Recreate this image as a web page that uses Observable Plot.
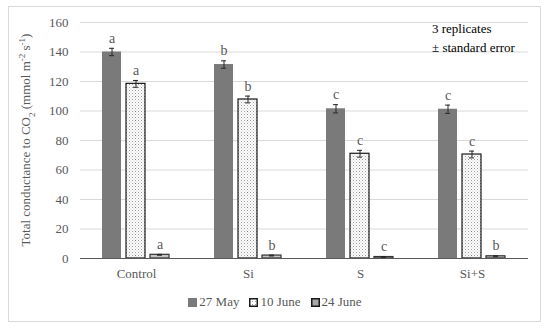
<!DOCTYPE html>
<html>
<head>
<meta charset="utf-8">
<script src="https://cdn.jsdelivr.net/npm/d3@7"></script>
<script src="https://cdn.jsdelivr.net/npm/@observablehq/plot@0.6"></script>
<style>
  body { margin: 0; background: #fff; }
  #wrap { position: relative; width: 550px; height: 331px; font-family: "Times New Roman", Times, "Liberation Serif", "Tinos", "Noto Serif", "FreeSerif", "DejaVu Serif", serif; }
  #frame { position: absolute; left: 8px; top: 6px; width: 533px; height: 316px; border: 1px solid #d9d9d9; box-sizing: border-box; }
  #chart { position: absolute; left: 0; top: 0; }
  #legend { position: absolute; left: 0; width: 550px; top: 294px; text-align: center; font-size: 13px; color: #595959; }
  #legend span.item { margin: 0 5px; white-space: nowrap; }
  #legend svg { vertical-align: -1px; margin-right: 2px; }
  #note { position: absolute; left: 432px; top: 19px; font-size: 13px; line-height: 19px; color: #000; }
  #chart svg, #chart svg text { font-family: "Times New Roman", Times, "Liberation Serif", "Tinos", "Noto Serif", "FreeSerif", "DejaVu Serif", serif !important; }
</style>
</head>
<body>
<div id="wrap">
  <div id="frame"></div>
  <div id="chart"></div>
  <div id="note">3 replicates<br>± standard error</div>
  <div id="legend"></div>
</div>
<script>
const categories = ["Control", "Si", "S", "Si+S"];
const series = ["27 May", "10 June", "24 June"];
const may27 = [140, 131.5, 101.5, 101.2];
const june10 = [118.4, 107.8, 71, 70.5];
const june24 = [2.5, 2, 1, 1.5];
const err27 = [2.5, 2.5, 2.8, 2.8];
const err10 = [2.3, 2.3, 2.3, 2.3];
const err24 = [0.3, 0.3, 0.3, 0.3];
const letters27 = ["a", "b", "c", "c"];
const letters10 = ["a", "b", "c", "c"];
const letters24 = ["a", "b", "c", "b"];
const yTicks = [0, 20, 40, 60, 80, 100, 120, 140, 160];

const values = [may27, june10, june24];
const errs = [err27, err10, err24];
const letters = [letters27, letters10, letters24];
const data = [];
categories.forEach((c, i) => {
  series.forEach((s, j) => {
    data.push({cat: c, series: s, value: values[j][i], err: errs[j][i], letter: letters[j][i]});
  });
});

const fills = ["#7a7a7a", "url(#dots)", "#c4c4c4"];
const strokes = ["none", "#1a1a1a", "#333333"];
const serifFont = "'Times New Roman', Times, 'Liberation Serif', Tinos, 'Noto Serif', FreeSerif, 'DejaVu Serif', serif";

const plot = Plot.plot({
  width: 550,
  height: 290,
  marginTop: 22,
  marginBottom: 32,
  marginLeft: 80,
  marginRight: 22,
  style: {fontFamily: serifFont, fontSize: "13px", color: "#595959", background: "transparent"},
  fx: {domain: categories, padding: 0, label: null, axis: "bottom", tickSize: 0, tickPadding: 10},
  x: {domain: series, paddingInner: 0.2, paddingOuter: 0.85, axis: null},
  y: {domain: [0, 160], ticks: yTicks, label: null, tickSize: 0, tickPadding: 12, grid: false},
  color: {domain: series, range: fills},
  marks: [
    Plot.ruleY(yTicks.filter(d => d > 0), {stroke: "#d9d9d9", strokeWidth: 1}),
    Plot.barY(data, {fx: "cat", x: "series", y: "value", fill: "series", stroke: d => strokes[series.indexOf(d.series)], strokeWidth: 1.2}),
    Plot.ruleY([0], {stroke: "#595959", strokeWidth: 1.2}),
    Plot.ruleX(data, {fx: "cat", x: "series", y1: d => d.value - d.err, y2: d => d.value + d.err, stroke: "#262626", strokeWidth: 1}),
    Plot.tickY(data, {fx: "cat", x: "series", y: d => d.value - d.err, stroke: "#262626", insetLeft: 7, insetRight: 7}),
    Plot.tickY(data, {fx: "cat", x: "series", y: d => d.value + d.err, stroke: "#262626", insetLeft: 7, insetRight: 7}),
    Plot.text(data, {fx: "cat", x: "series", y: d => d.value + d.err, text: "letter", dy: -10, fill: "#595959", fontSize: 14})
  ]
});

const ns = "http://www.w3.org/2000/svg";
const defs = document.createElementNS(ns, "defs");
defs.innerHTML = `<pattern id="dots" width="3" height="3" patternUnits="userSpaceOnUse">
  <rect width="3" height="3" fill="#ffffff"/>
  <rect x="0" y="0" width="1" height="1" fill="#9a9a9a"/>
  <rect x="1.5" y="1.5" width="1" height="1" fill="#bdbdbd"/>
</pattern>`;
plot.insertBefore(defs, plot.firstChild);

const title = document.createElementNS(ns, "text");
title.setAttribute("transform", "translate(30,140) rotate(-90)");
title.setAttribute("text-anchor", "middle");
title.setAttribute("fill", "#595959");
title.setAttribute("font-size", "13");
title.innerHTML = 'Total conductance to CO<tspan baseline-shift="sub" font-size="9">2</tspan> (mmol m<tspan baseline-shift="super" font-size="9">-2</tspan> s<tspan baseline-shift="super" font-size="9">-1</tspan>)';
plot.appendChild(title);

document.getElementById("chart").appendChild(plot);

const legend = document.getElementById("legend");
series.forEach((s, j) => {
  const item = document.createElement("span");
  item.className = "item";
  const sw = j === 0
    ? `<svg width="9" height="9"><rect x="0" y="0" width="9" height="9" fill="#7a7a7a"/></svg>`
    : `<svg width="9" height="9"><defs><pattern id="ldots${j}" width="3" height="3" patternUnits="userSpaceOnUse"><rect width="3" height="3" fill="#fff"/><rect width="1" height="1" fill="#9a9a9a"/></pattern></defs><rect x="0.75" y="0.75" width="7.5" height="7.5" fill="${j === 1 ? `url(#ldots${j})` : "#a8a8a8"}" stroke="#1a1a1a" stroke-width="1.5"/></svg>`;
  item.innerHTML = sw + s;
  legend.appendChild(item);
});
</script>
</body>
</html>
